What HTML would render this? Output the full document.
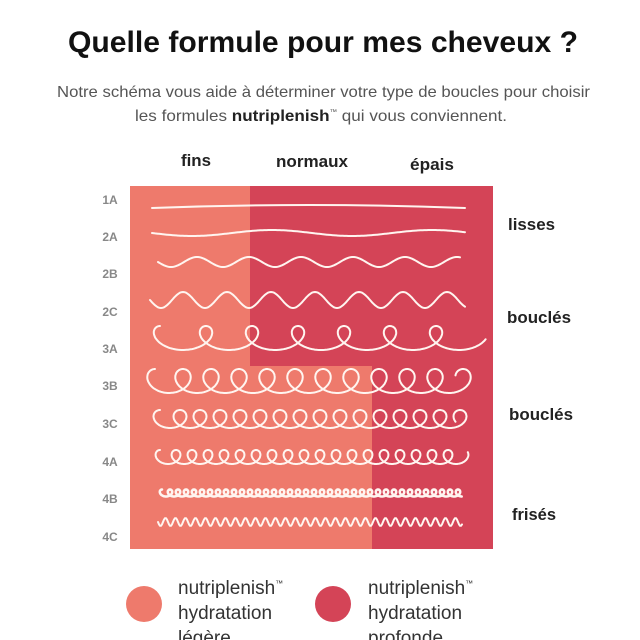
<!DOCTYPE html>
<html><head><meta charset="utf-8"><style>
html,body{margin:0;padding:0;background:#fff;width:640px;height:640px;overflow:hidden}
svg{display:block}
text{font-family:"Liberation Sans Narrow","Liberation Sans",sans-serif}
</style></head><body>
<svg id="s" width="640" height="640" viewBox="0 0 640 640" xmlns="http://www.w3.org/2000/svg">
<rect width="640" height="640" fill="#fff"/>
<text x="68" y="52" font-size="30" font-weight="bold" fill="#111" textLength="510" lengthAdjust="spacingAndGlyphs">Quelle formule pour mes cheveux ?</text>
<text x="57" y="97" font-size="16" fill="#555" textLength="533" lengthAdjust="spacingAndGlyphs">Notre schéma vous aide à déterminer votre type de boucles pour choisir</text>
<text x="135" y="121" font-size="16" fill="#555" textLength="372" lengthAdjust="spacingAndGlyphs">les formules <tspan font-weight="bold" fill="#222">nutriplenish</tspan><tspan font-size="7" dy="-7">™</tspan><tspan dy="7"> qui vous conviennent.</tspan></text>
<g font-size="17" font-weight="bold" fill="#222">
<text x="181" y="166" textLength="30" lengthAdjust="spacingAndGlyphs">fins</text>
<text x="276" y="167" textLength="72" lengthAdjust="spacingAndGlyphs">normaux</text>
<text x="410" y="170" textLength="44" lengthAdjust="spacingAndGlyphs">épais</text>
<text x="508" y="230" textLength="47" lengthAdjust="spacingAndGlyphs">lisses</text>
<text x="507" y="323" textLength="64" lengthAdjust="spacingAndGlyphs">bouclés</text>
<text x="509" y="420" textLength="64" lengthAdjust="spacingAndGlyphs">bouclés</text>
<text x="512" y="520" textLength="44" lengthAdjust="spacingAndGlyphs">frisés</text>
</g>
<g font-size="12" font-weight="bold" fill="#888" text-anchor="middle">
<text x="110" y="204">1A</text><text x="110" y="241">2A</text><text x="110" y="278">2B</text>
<text x="110" y="316">2C</text><text x="110" y="353">3A</text><text x="110" y="390">3B</text>
<text x="110" y="428">3C</text><text x="110" y="466">4A</text><text x="110" y="503">4B</text>
<text x="110" y="541">4C</text>
</g>
<rect x="130" y="186" width="363" height="363" fill="#d44457"/>
<path d="M130 186 H250 V366 H372 V549 H130 Z" fill="#ee7a6c"/>
<g id="w" fill="none" stroke="#fff5f0" stroke-width="2" stroke-linecap="round"></g>
<circle cx="144" cy="604" r="18" fill="#ee7a6c"/>
<circle cx="333" cy="604" r="18" fill="#d44457"/>
<g font-size="19" fill="#333">
<text x="178" y="594">nutriplenish<tspan font-size="8" dy="-8">™</tspan></text>
<text x="178" y="619">hydratation</text>
<text x="178" y="644">légère</text>
<text x="368" y="594">nutriplenish<tspan font-size="8" dy="-8">™</tspan></text>
<text x="368" y="619">hydratation</text>
<text x="368" y="644">profonde</text>
</g>
</svg>
<script>
var g=document.getElementById('w');
function add(d,sw){var p=document.createElementNS('http://www.w3.org/2000/svg','path');p.setAttribute('d',d);if(sw)p.setAttribute('stroke-width',sw);g.appendChild(p);}
function sine(x0,x1,y,amp,per){var d='';for(var x=x0;x<=x1;x+=1){var yy=y+amp*Math.sin((x-x0)/per*2*Math.PI);d+=(d?'L':'M')+x.toFixed(1)+' '+yy.toFixed(1);}return d;}
function loops(x0,x1,y,per,R,ry){var d='';var n=(x1-x0)/per;var T=n*2*Math.PI;for(var t=0;t<=T;t+=0.06){var x=x0+per*t/(2*Math.PI)-R*Math.sin(t);var yy=y-ry*Math.cos(t);d+=(d?'L':'M')+x.toFixed(1)+' '+yy.toFixed(1);}return d;}
add('M152 208 Q310 202 465 208');
add(sine(152,465,233,3,160));
add(sine(158,460,262,5,52));
add(sine(150,465,300,8,44));
add(loops(160,470,338,46,16,12));
add(loops(155,468,381,28,14,12));
add(loops(160,466,419,20,11,9));
add(loops(160,462,457,16,8,7));
add(loops(162,462,493,8,4,3.5),'2.5');
add(sine(158,462,522,4,10));
</script>
</body></html>
